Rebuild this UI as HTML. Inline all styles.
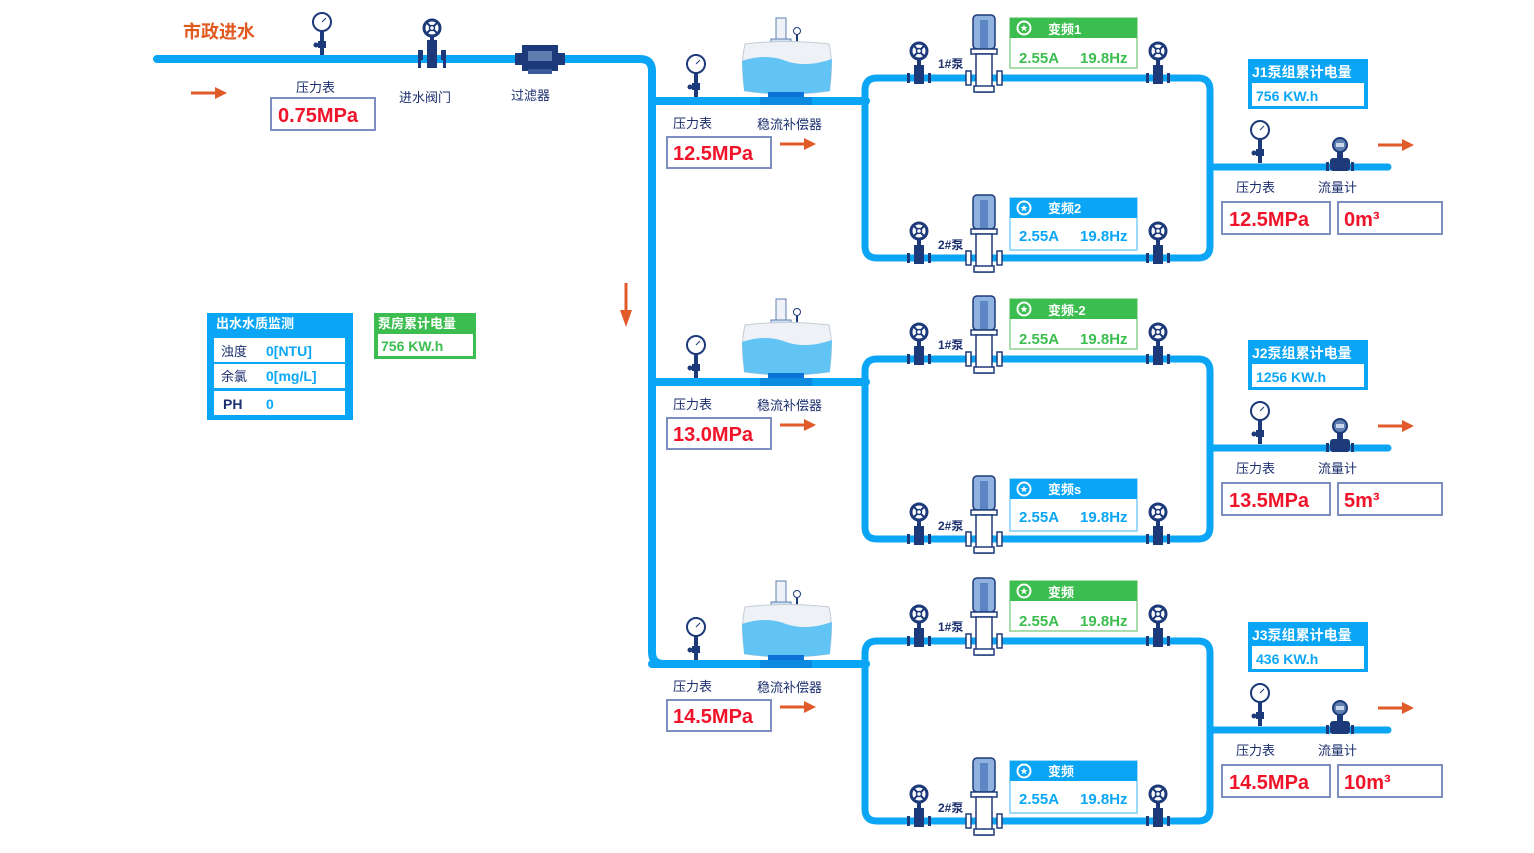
<!DOCTYPE html>
<html><head><meta charset="utf-8">
<style>
html,body{margin:0;padding:0;background:#fff;}
svg{display:block;font-family:"Liberation Sans","Noto Sans CJK SC",sans-serif;}
.lb{font-size:13px;fill:#1c2f6e;}
.rv{font-size:20px;fill:#f0142a;font-weight:bold;}
.vb{fill:#fff;stroke:#7d8fc0;stroke-width:2;}
.p{stroke:#0aa6f5;fill:none;stroke-linecap:round;}
</style></head>
<body>
<svg width="1534" height="853" viewBox="0 0 1534 853" xmlns="http://www.w3.org/2000/svg">
<defs>
<g id="gauge">
 <rect x="-2" y="-24" width="4" height="24" fill="#1c3a7a"/>
 <rect x="-4" y="-14" width="8" height="7" fill="#1c3a7a"/>
 <circle cx="-6" cy="-10" r="2.5" fill="#1c3a7a"/>
 <circle cx="0" cy="-33" r="9" fill="#fff" stroke="#1c3a7a" stroke-width="2"/>
 <line x1="0" y1="-33" x2="4" y2="-37" stroke="#1c3a7a" stroke-width="1"/>
</g>
<g id="valve">
 <circle cx="0" cy="-27" r="8" fill="#fff" stroke="#1c3a7a" stroke-width="3"/>
 <line x1="-5" y1="-32" x2="5" y2="-22" stroke="#1c3a7a" stroke-width="2"/>
 <line x1="5" y1="-32" x2="-5" y2="-22" stroke="#1c3a7a" stroke-width="2"/>
 <circle cx="0" cy="-27" r="2.5" fill="#fff" stroke="#1c3a7a" stroke-width="1.5"/>
 <rect x="-2" y="-19" width="4" height="6" fill="#1c3a7a"/>
 <rect x="-5" y="-13" width="10" height="19" fill="#1c3a7a"/>
 <rect x="-12" y="-5" width="3" height="10" fill="#1c3a7a"/>
 <rect x="9" y="-5" width="3" height="10" fill="#1c3a7a"/>
</g>
<g id="pump">
 <rect x="-11" y="-63" width="22" height="34" rx="4" fill="#8fb2de" stroke="#1c3a7a" stroke-width="1.5"/>
 <rect x="-4" y="-58" width="8" height="28" fill="#5d86c4"/>
 <rect x="-13" y="-29" width="26" height="5" fill="#fff" stroke="#1c3a7a" stroke-width="1.5"/>
 <rect x="-8" y="-24" width="16" height="38" fill="#fff" stroke="#1c3a7a" stroke-width="1.5"/>
 <rect x="-18" y="-7" width="5" height="14" fill="#fff" stroke="#1c3a7a" stroke-width="1.5"/>
 <rect x="13" y="-7" width="5" height="14" fill="#fff" stroke="#1c3a7a" stroke-width="1.5"/>
 <rect x="-10" y="8" width="20" height="6" fill="#fff" stroke="#1c3a7a" stroke-width="1.5"/>
</g>
<g id="tank">
 <rect x="35" y="-83" width="10" height="22" fill="#eef2f8" stroke="#5f7fb0"/>
 <rect x="30" y="-62" width="20" height="4" fill="#cfe0f2" stroke="#5f7fb0"/>
 <circle cx="56" cy="-70" r="3.5" fill="#fff" stroke="#1c3a7a"/>
 <line x1="56" y1="-66" x2="56" y2="-58" stroke="#1c3a7a" stroke-width="2"/>
 <path d="M4,-57 Q45,-62 88,-57 Q93,-35 88,-10 Q45,-4 4,-10 Q-1,-35 4,-57Z" fill="#eef1f5" stroke="#c5ccd6"/>
 <path d="M1,-40 Q25,-48 45,-40 Q65,-33 91,-42 L89,-10 Q45,-4 3,-10Z" fill="#62c3f5"/>
 <rect x="27" y="-9" width="36" height="7" fill="#0b73d8"/>
 <rect x="19" y="-4" width="52" height="8" fill="#0b8ae0"/>
</g>
<g id="flow">
 <circle cx="0" cy="-22" r="7" fill="#5f7fb0" stroke="#1c3a7a" stroke-width="2"/>
 <rect x="-4" y="-24" width="8" height="4" fill="#c9d7ec"/>
 <rect x="-3" y="-15" width="6" height="6" fill="#1c3a7a"/>
 <rect x="-10" y="-9" width="20" height="13" rx="3" fill="#1c3a7a"/>
 <rect x="-14" y="-5" width="3" height="9" fill="#1c3a7a"/>
 <rect x="11" y="-5" width="3" height="9" fill="#1c3a7a"/>
</g>
<g id="arrow">
 <line x1="0" y1="0" x2="30" y2="0" stroke="#e05a2a" stroke-width="3"/>
 <polygon points="24,-6 36,0 24,6" fill="#e05a2a"/>
</g>
<g id="fan">
 <circle cx="0" cy="0" r="6.5" fill="none" stroke="#fff" stroke-width="2"/>
 <polygon points="0,-3.5 1,-1 3.5,-1 1.5,0.8 2.3,3.3 0,1.8 -2.3,3.3 -1.5,0.8 -3.5,-1 -1,-1" fill="#fff"/>
</g>
</defs>

<path class="p" d="M157,59 L640,59 Q652,59 652,71 L652,652 Q652,664 664,664 L866,664" stroke-width="8"/>
<text x="183" y="38" font-size="18" font-weight="bold" fill="#e05a20">市政进水</text>
<use href="#arrow" x="191" y="93"/>
<use href="#gauge" x="322" y="55"/>
<text x="296" y="92" class="lb">压力表</text>
<rect x="271" y="98" width="104" height="32" class="vb"/>
<text x="278" y="122" class="rv">0.75MPa</text>
<use href="#valve" x="432" y="55"/>
<rect x="427" y="40" width="10" height="28" fill="#1c3a7a"/>
<rect x="418" y="50" width="3" height="18" fill="#1c3a7a"/>
<rect x="443" y="50" width="3" height="18" fill="#1c3a7a"/>
<text x="399" y="102" class="lb">进水阀门</text>
<rect x="515" y="53" width="10" height="12" fill="#1c3a7a"/>
<rect x="555" y="53" width="10" height="12" fill="#1c3a7a"/>
<rect x="522" y="45" width="36" height="26" fill="#1c3a7a"/>
<rect x="528" y="51" width="24" height="10" fill="#5f7fb0"/>
<rect x="528" y="69" width="24" height="5" fill="#3a5a9a"/>
<text x="511" y="100" class="lb">过滤器</text>

<line x1="626" y1="283" x2="626" y2="315" stroke="#e05a2a" stroke-width="3"/>
<polygon points="620,310 626,327 632,310" fill="#e05a2a"/>

<rect x="207" y="313" width="146" height="107" fill="#0aa6f5"/>
<text x="216" y="328" font-size="13" font-weight="bold" fill="#fff">出水水质监测</text>
<rect x="214" y="338" width="131" height="24" fill="#fff"/>
<rect x="214" y="364" width="131" height="24" fill="#fff"/>
<rect x="214" y="391" width="131" height="24" fill="#fff"/>
<text x="221" y="356" font-size="13" fill="#1c2f6e">浊度</text>
<text x="266" y="356" font-size="14" fill="#0aa6f5" font-weight="bold">0[NTU]</text>
<text x="221" y="381" font-size="13" fill="#1c2f6e">余氯</text>
<text x="266" y="381" font-size="14" fill="#0aa6f5" font-weight="bold">0[mg/L]</text>
<text x="223" y="409" font-size="14" fill="#1c2f6e" font-weight="bold">PH</text>
<text x="266" y="409" font-size="14" fill="#0aa6f5" font-weight="bold">0</text>
<rect x="374" y="313" width="102" height="46" fill="#3cbd4f"/>
<text x="378" y="328" font-size="13" font-weight="bold" fill="#fff">泵房累计电量</text>
<rect x="378" y="334" width="95" height="22" fill="#fff"/>
<text x="381" y="351" font-size="14" font-weight="bold" fill="#3cbd4f">756 KW.h</text>

<g id="blk1">
 <line class="p" x1="652" y1="101" x2="866" y2="101" stroke-width="8"/>
 <path class="p" d="M865,90 Q865,78 877,78 L1198,78 Q1210,78 1210,90 L1210,246 Q1210,258 1198,258 L877,258 Q865,258 865,246 Z" stroke-width="7"/>
 <line class="p" x1="1210" y1="167" x2="1388" y2="167" stroke-width="7" stroke-linecap="butt"/>
 <use href="#gauge" x="696" y="97"/>
 <use href="#tank" x="741" y="101"/>
 <text x="673" y="128" class="lb">压力表</text>
 <text x="757" y="129" class="lb">稳流补偿器</text>
 <rect x="667" y="137" width="104" height="31" class="vb"/>
 <use href="#arrow" x="780" y="144"/>
 <use href="#valve" x="919" y="78"/>
 <use href="#valve" x="1158" y="78"/>
 <use href="#valve" x="919" y="258"/>
 <use href="#valve" x="1158" y="258"/>
 <use href="#pump" x="984" y="78"/>
 <use href="#pump" x="984" y="258"/>
 <text x="938" y="68" font-size="12" font-weight="bold" fill="#1c2f6e">1#泵</text>
 <text x="938" y="249" font-size="12" font-weight="bold" fill="#1c2f6e">2#泵</text>
 <rect x="1010" y="18" width="127" height="50" fill="#fff" stroke="#8fd18f" stroke-width="1.5"/>
 <rect x="1010" y="18" width="127" height="20" fill="#3cbd4f"/>
 <use href="#fan" x="1024" y="28"/>
 <text x="1019" y="63" font-size="15" font-weight="bold" fill="#3cbd4f">2.55A</text>
 <text x="1080" y="63" font-size="15" font-weight="bold" fill="#3cbd4f">19.8Hz</text>
 <rect x="1010" y="198" width="127" height="52" fill="#fff" stroke="#7fcff7" stroke-width="1.5"/>
 <rect x="1010" y="198" width="127" height="20" fill="#0aa6f5"/>
 <use href="#fan" x="1024" y="208"/>
 <text x="1019" y="241" font-size="15" font-weight="bold" fill="#0aa6f5">2.55A</text>
 <text x="1080" y="241" font-size="15" font-weight="bold" fill="#0aa6f5">19.8Hz</text>
 <rect x="1248" y="59" width="120" height="50" fill="#0aa6f5"/>
 <rect x="1252" y="83" width="112" height="23" fill="#fff"/>
 <use href="#gauge" x="1260" y="163"/>
 <use href="#flow" x="1340" y="167"/>
 <use href="#arrow" x="1378" y="145"/>
 <text x="1236" y="192" class="lb">压力表</text>
 <text x="1318" y="192" class="lb">流量计</text>
 <rect x="1222" y="202" width="108" height="32" class="vb"/>
 <rect x="1338" y="202" width="104" height="32" class="vb"/>
</g>
<use href="#blk1" y="281"/>
<use href="#blk1" y="563"/>

<g font-weight="bold">
<text x="1048" y="34" font-size="13" fill="#fff">变频1</text>
<text x="1048" y="213" font-size="13" fill="#fff">变频2</text>
<text x="1048" y="315" font-size="13" fill="#fff">变频-2</text>
<text x="1048" y="494" font-size="13" fill="#fff">变频s</text>
<text x="1048" y="597" font-size="13" fill="#fff">变频</text>
<text x="1048" y="776" font-size="13" fill="#fff">变频</text>
<text x="1252" y="77" font-size="14" fill="#fff">J1泵组累计电量</text>
<text x="1252" y="358" font-size="14" fill="#fff">J2泵组累计电量</text>
<text x="1252" y="640" font-size="14" fill="#fff">J3泵组累计电量</text>
<text x="1256" y="101" font-size="14" fill="#0aa6f5">756 KW.h</text>
<text x="1256" y="382" font-size="14" fill="#0aa6f5">1256 KW.h</text>
<text x="1256" y="664" font-size="14" fill="#0aa6f5">436 KW.h</text>
</g>
<text x="673" y="160" class="rv" font-weight="normal">12.5MPa</text>
<text x="673" y="441" class="rv" font-weight="normal">13.0MPa</text>
<text x="673" y="723" class="rv" font-weight="normal">14.5MPa</text>
<text x="1229" y="226" class="rv" font-weight="normal">12.5MPa</text>
<text x="1229" y="507" class="rv" font-weight="normal">13.5MPa</text>
<text x="1229" y="789" class="rv" font-weight="normal">14.5MPa</text>
<text x="1344" y="226" class="rv">0m³</text>
<text x="1344" y="507" class="rv">5m³</text>
<text x="1344" y="789" class="rv">10m³</text>
</svg>
</body></html>
